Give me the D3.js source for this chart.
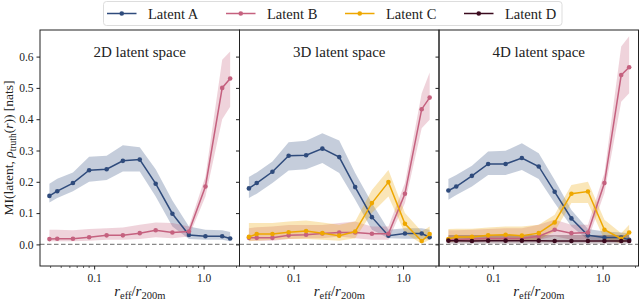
<!DOCTYPE html>
<html lang="en">
<head>
<meta charset="UTF-8">
<title>MI vs radius</title>
<script src="https://cdn.jsdelivr.net/npm/d3@7"></script>
<style>
  body { margin: 0; background: #fff; }
  svg text { font-family: "Liberation Serif", "DejaVu Serif", serif; fill: #222; }
</style>
</head>
<body>
<script>
// r_eff / r_200m sample points
const radii = [0.039, 0.046, 0.064, 0.090, 0.130, 0.183, 0.261, 0.365, 0.519, 0.735, 1.04, 1.48, 1.75]

const latents = ['Latent A', 'Latent B', 'Latent C', 'Latent D']
const panelTitles = ['2D latent space', '3D latent space', '4D latent space']
const yTicks = [0.0, 0.1, 0.2, 0.3, 0.4, 0.5, 0.6]
const xTicks = [0.1, 1.0]

// 2D
const a2 = [0.155, 0.170, 0.196, 0.237, 0.240, 0.267, 0.271, 0.194, 0.098, 0.030, 0.026, 0.026, 0.019]
const a2Lo = [0.134, 0.148, 0.170, 0.200, 0.206, 0.233, 0.233, 0.153, 0.057, 0.017, 0.015, 0.015, 0.010]
const a2Hi = [0.194, 0.210, 0.230, 0.280, 0.283, 0.317, 0.310, 0.240, 0.140, 0.057, 0.047, 0.045, 0.040]
const b2 = [0.017, 0.018, 0.018, 0.023, 0.029, 0.029, 0.036, 0.045, 0.038, 0.041, 0.185, 0.500, 0.530]
const b2Lo = [0.010, 0.010, 0.010, 0.012, 0.015, 0.015, 0.017, 0.023, 0.020, 0.025, 0.153, 0.400, 0.440]
const b2Hi = [0.047, 0.047, 0.045, 0.049, 0.052, 0.054, 0.063, 0.070, 0.068, 0.057, 0.217, 0.590, 0.616]

// 3D
const a3 = [0.179, 0.196, 0.232, 0.283, 0.285, 0.306, 0.279, 0.183, 0.087, 0.028, 0.035, 0.035, 0.023]
const a3Lo = [0.148, 0.162, 0.196, 0.236, 0.240, 0.260, 0.228, 0.143, 0.047, 0.020, 0.018, 0.018, 0.015]
const a3Hi = [0.215, 0.230, 0.265, 0.326, 0.331, 0.355, 0.332, 0.228, 0.132, 0.047, 0.052, 0.052, 0.047]
const b3 = [0.021, 0.021, 0.021, 0.029, 0.031, 0.035, 0.038, 0.038, 0.034, 0.034, 0.162, 0.432, 0.469]
const b3Lo = [0.012, 0.012, 0.012, 0.017, 0.020, 0.020, 0.025, 0.020, 0.015, 0.015, 0.132, 0.371, 0.398]
const b3Hi = [0.052, 0.055, 0.057, 0.062, 0.062, 0.062, 0.068, 0.073, 0.057, 0.057, 0.196, 0.483, 0.549]
const c3 = [0.024, 0.033, 0.033, 0.039, 0.043, 0.036, 0.028, 0.041, 0.132, 0.199, 0.066, 0.011, 0.033]
const c3Lo = [0.010, 0.012, 0.015, 0.017, 0.017, 0.015, 0.012, 0.020, 0.100, 0.153, 0.036, 0.002, 0.015]
const c3Hi = [0.068, 0.068, 0.068, 0.073, 0.076, 0.070, 0.063, 0.073, 0.174, 0.238, 0.100, 0.041, 0.057]

// 4D
const a4 = [0.172, 0.185, 0.219, 0.257, 0.257, 0.276, 0.249, 0.168, 0.083, 0.029, 0.022, 0.022, 0.015]
const a4Lo = [0.143, 0.158, 0.185, 0.222, 0.222, 0.238, 0.209, 0.132, 0.057, 0.015, 0.012, 0.012, 0.010]
const a4Hi = [0.209, 0.222, 0.251, 0.297, 0.299, 0.323, 0.291, 0.206, 0.110, 0.049, 0.041, 0.038, 0.036]
const b4 = [0.015, 0.015, 0.017, 0.019, 0.019, 0.019, 0.026, 0.047, 0.036, 0.038, 0.196, 0.541, 0.566]
const b4Lo = [0.010, 0.010, 0.010, 0.010, 0.012, 0.012, 0.015, 0.026, 0.015, 0.015, 0.164, 0.456, 0.483]
const b4Hi = [0.045, 0.045, 0.047, 0.049, 0.052, 0.052, 0.063, 0.079, 0.063, 0.063, 0.228, 0.632, 0.665]
const c4 = [0.017, 0.024, 0.024, 0.029, 0.031, 0.028, 0.036, 0.070, 0.162, 0.169, 0.047, 0.018, 0.038]
const c4Lo = [0.006, 0.010, 0.010, 0.012, 0.012, 0.012, 0.015, 0.041, 0.132, 0.132, 0.015, 0.004, 0.015]
const c4Hi = [0.049, 0.050, 0.050, 0.054, 0.057, 0.057, 0.063, 0.095, 0.190, 0.200, 0.079, 0.036, 0.063]
const d4 = [0.012, 0.012, 0.011, 0.012, 0.012, 0.012, 0.012, 0.011, 0.011, 0.011, 0.011, 0.011, 0.011]
const d4Lo = [0.003, 0.003, 0.003, 0.003, 0.003, 0.003, 0.003, 0.003, 0.003, 0.003, 0.003, 0.003, 0.003]
const d4Hi = [0.030, 0.030, 0.030, 0.030, 0.030, 0.030, 0.030, 0.030, 0.030, 0.030, 0.030, 0.030, 0.030]

const colours = { 'Latent A': '#2f4b7c', 'Latent B': '#c5617f', 'Latent C': '#eea700', 'Latent D': '#3b0a1e' }

const panels = [
  [['Latent A', a2, a2Lo, a2Hi], ['Latent B', b2, b2Lo, b2Hi]],
  [['Latent A', a3, a3Lo, a3Hi], ['Latent B', b3, b3Lo, b3Hi], ['Latent C', c3, c3Lo, c3Hi]],
  [['Latent A', a4, a4Lo, a4Hi], ['Latent B', b4, b4Lo, b4Hi], ['Latent C', c4, c4Lo, c4Hi], ['Latent D', d4, d4Lo, d4Hi]]
]

const width = 640
const height = 302
const plotLeft = 40
const plotTop = 30
const plotBottom = 266
const panelW = 199.5

const svg = d3.select('body').append('svg')
  .attr('width', width)
  .attr('height', height)

const y = d3.scaleLinear().domain([-0.069, 0.685]).range([plotBottom, plotTop])

panels.forEach(function (series, p) {
  const x0 = plotLeft + p * panelW
  const x = d3.scaleLog().domain([0.032, 2.13]).range([x0, x0 + panelW])

  const g = svg.append('g')

  // zero line
  g.append('line')
    .attr('x1', x0).attr('x2', x0 + panelW)
    .attr('y1', y(0)).attr('y2', y(0))
    .attr('stroke', '#888')
    .attr('stroke-width', 1.4)
    .attr('stroke-dasharray', '4.5,2.5')

  const area = d3.area()
    .x((d, i) => x(radii[i]))
    .y0((d) => y(d[0]))
    .y1((d) => y(d[1]))

  const line = d3.line()
    .x((d, i) => x(radii[i]))
    .y((d) => y(d))

  series.forEach(function (s) {
    const name = s[0]
    const band = s[2].map((lo, i) => [lo, s[3][i]])
    g.append('path')
      .attr('d', area(band))
      .attr('fill', colours[name])
      .attr('fill-opacity', 0.28)
  })

  series.forEach(function (s) {
    const name = s[0]
    g.append('path')
      .attr('d', line(s[1]))
      .attr('fill', 'none')
      .attr('stroke', colours[name])
      .attr('stroke-width', 1.5)

    g.selectAll(null)
      .data(s[1])
      .enter()
      .append('circle')
      .attr('cx', (d, i) => x(radii[i]))
      .attr('cy', (d) => y(d))
      .attr('r', 2.3)
      .attr('fill', colours[name])
  })

  // frame
  g.append('rect')
    .attr('x', x0).attr('y', plotTop)
    .attr('width', panelW).attr('height', plotBottom - plotTop)
    .attr('fill', 'none')
    .attr('stroke', '#222')
    .attr('stroke-width', 1)

  // x axis
  const xAxis = d3.axisBottom(x)
    .tickValues(xTicks)
    .tickFormat(d3.format('.1f'))
    .tickSize(3.5)
    .tickPadding(4)
  const xg = g.append('g')
    .attr('transform', `translate(0,${plotBottom})`)
    .call(xAxis)
    .attr('font-family', null)
  xg.select('.domain').remove()
  xg.selectAll('text').attr('font-size', 11.5).attr('fill', '#222')
  xg.selectAll('line').attr('stroke', '#222')

  const minor = x.ticks().filter((t) => xTicks.indexOf(t) < 0)
  g.selectAll(null)
    .data(minor)
    .enter()
    .append('line')
    .attr('x1', (d) => x(d)).attr('x2', (d) => x(d))
    .attr('y1', plotBottom).attr('y2', plotBottom + 2)
    .attr('stroke', '#222')
    .attr('stroke-width', 0.7)

  // y axis
  const yAxis = d3.axisLeft(y)
    .tickValues(yTicks)
    .tickFormat(p === 0 ? d3.format('.1f') : '')
    .tickSize(3.5)
    .tickPadding(3)
  const yg = g.append('g')
    .attr('transform', `translate(${x0},0)`)
    .call(yAxis)
    .attr('font-family', null)
  yg.select('.domain').remove()
  yg.selectAll('text').attr('font-size', 11.5).attr('fill', '#222')
  yg.selectAll('line').attr('stroke', '#222')

  // title
  g.append('text')
    .attr('x', x0 + panelW / 2)
    .attr('y', 57)
    .attr('text-anchor', 'middle')
    .attr('font-size', 15)
    .text(panelTitles[p])

  // x label
  const xl = g.append('text')
    .attr('x', x0 + panelW / 2)
    .attr('y', 296)
    .attr('text-anchor', 'middle')
    .attr('font-size', 15)
  xl.append('tspan').attr('font-style', 'italic').text('r')
  xl.append('tspan').attr('font-size', 10.5).attr('dy', 3).text('eff')
  xl.append('tspan').attr('dy', -3).text('/')
  xl.append('tspan').attr('font-style', 'italic').text('r')
  xl.append('tspan').attr('font-size', 10.5).attr('dy', 3).text('200m')
})

// y label
const yl = svg.append('text')
  .attr('transform', `translate(13,${(plotTop + plotBottom) / 2}) rotate(-90)`)
  .attr('text-anchor', 'middle')
  .attr('font-size', 13.5)
yl.append('tspan').text('MI(latent, ')
yl.append('tspan').attr('font-style', 'italic').text('ρ')
yl.append('tspan').attr('font-size', 9.5).attr('dy', 2.5).text('truth')
yl.append('tspan').attr('dy', -2.5).text('(')
yl.append('tspan').attr('font-style', 'italic').text('r')
yl.append('tspan').text(')) [nats]')

// legend
const legend = svg.append('g')
legend.append('rect')
  .attr('x', 103.5).attr('y', 1.5)
  .attr('width', 458.5).attr('height', 24)
  .attr('rx', 3)
  .attr('fill', '#fff')
  .attr('stroke', '#ddd')
  .attr('stroke-width', 1)

const legendX = d3.scalePoint().domain(latents).range([107, 464])

latents.forEach(function (name) {
  const lx = legendX(name)
  legend.append('line')
    .attr('x1', lx).attr('x2', lx + 29.5)
    .attr('y1', 13.5).attr('y2', 13.5)
    .attr('stroke', colours[name])
    .attr('stroke-width', 1.5)
  legend.append('circle')
    .attr('cx', lx + 14.75).attr('cy', 13.5)
    .attr('r', 2.3)
    .attr('fill', colours[name])
  legend.append('text')
    .attr('x', lx + 41)
    .attr('y', 18.5)
    .attr('font-size', 14.5)
    .text(name)
})
</script>
</body>
</html>
